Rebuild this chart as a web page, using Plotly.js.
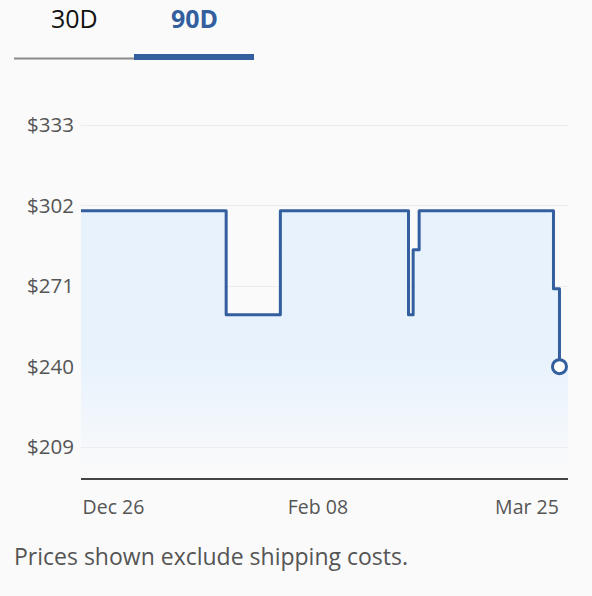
<!DOCTYPE html>
<html><head><meta charset="utf-8">
<script src="https://cdn.plot.ly/plotly-3.0.1.min.js"></script>
<style>
html,body{margin:0;padding:0;background:#fafafa;}
#chart{width:592px;height:596px;}
.scatterlayer .js-line{stroke-linejoin:round;}
</style></head><body><div id="chart"></div>
<script>
// Price history (step changes)
const dates  = ['2024-12-19 00:00','2025-01-19 06:00','2025-01-30 22:00','2025-02-27 12:00','2025-02-28 12:00','2025-03-01 19:00','2025-03-30 17:00','2025-04-01 00:00'];
const prices = [300, 260, 300, 260, 285, 300, 270, 240];
const rangeEnd = '2025-04-02 20:00';
const xTickVals  = ['2024-12-26','2025-02-08','2025-03-25'];
const xTickText  = ['Dec 26','Feb 08','Mar 25'];
const yTickVals  = [209, 240, 271, 302, 333];
const yTickText  = ['$209','$240','$271','$302','$333'];
const tabs = ['30D','90D'];
const note = 'Prices shown exclude shipping costs.';

const W=592,H=596,L=81,R=24,T=100,B=118;
const pw=W-L-R, ph=H-T-B;
const px=x=>(x-L)/pw, py=y=>(H-B-y)/ph;
const BLUE='#335f9e';
const FONT='"Open Sans", sans-serif';

const fillX = dates.concat([rangeEnd]);
const fillY = prices.concat([prices[prices.length-1]]);

const traces = [
 {x:fillX, y:fillY, type:'scatter', mode:'lines', line:{shape:'hv', width:0},
  fill:'tozeroy',
  fillgradient:{type:'vertical', start:200, stop:300,
    colorscale:[[0,'rgba(231,242,253,0)'],[0.25,'rgba(231,242,253,0.6)'],[0.45,'rgba(231,242,253,1)'],[1,'rgba(231,242,253,1)']]},
  hoverinfo:'skip', showlegend:false},
 {x:dates, y:prices, type:'scatter', mode:'lines', line:{shape:'hv', width:3, color:BLUE}, showlegend:false},
 {x:[dates[dates.length-1]], y:[prices[prices.length-1]], type:'scatter', mode:'markers',
  marker:{size:14, color:'#ffffff', line:{width:3, color:BLUE}}, showlegend:false, cliponaxis:false}
];

const layout = {
 width:W, height:H, margin:{l:L,r:R,t:T,b:B},
 paper_bgcolor:'#fafafa', plot_bgcolor:'#fafafa',
 font:{family:FONT, color:'#555'},
 xaxis:{type:'date', range:[dates[0], rangeEnd], tickvals:xTickVals, ticktext:xTickText,
   showgrid:false, zeroline:false, showline:true, linecolor:'#444', linewidth:1.5,
   ticks:'', tickfont:{size:19.5, color:'#555'}, ticklabelstandoff:11},
 yaxis:{range:[197.1,342.7], tickvals:yTickVals, ticktext:yTickText, showgrid:true,
   gridcolor:'#ececec', gridwidth:1, zeroline:false, showline:false, ticks:'',
   tickfont:{size:20.5, color:'#555'}, ticklabelstandoff:6},
 annotations:[
  {text:tabs[0], xref:'paper', yref:'paper', x:px(74), y:py(18), xanchor:'center', yanchor:'middle', showarrow:false,
   font:{size:25, color:'#111', family:FONT}},
  {text:'<b>'+tabs[1]+'</b>', xref:'paper', yref:'paper', x:px(194), y:py(18), xanchor:'center', yanchor:'middle', showarrow:false,
   font:{size:25, color:BLUE, family:FONT}},
  {text:note, xref:'paper', yref:'paper', x:px(12), y:py(556), xanchor:'left', yanchor:'middle', showarrow:false,
   font:{size:23, color:'#555', family:FONT}}
 ],
 shapes:[
  {type:'line', xref:'paper', yref:'paper', x0:px(14), x1:px(134), y0:py(58.5), y1:py(58.5), line:{color:'#8a8a8a', width:2}},
  {type:'line', xref:'paper', yref:'paper', x0:px(134), x1:px(254), y0:py(57), y1:py(57), line:{color:BLUE, width:6}}
 ]
};
Plotly.newPlot('chart', traces, layout, {displayModeBar:false, staticPlot:true});
</script></body></html>
